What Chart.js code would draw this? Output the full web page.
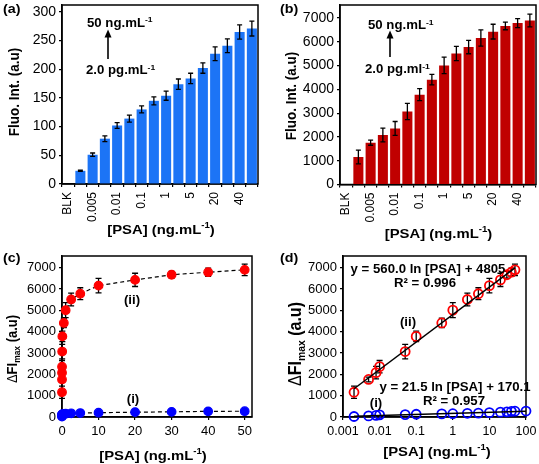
<!DOCTYPE html>
<html>
<head>
<meta charset="utf-8">
<script src="https://cdn.jsdelivr.net/npm/chart.js@4.4.0/dist/chart.umd.min.js"></script>
<style>
  html, body { margin: 0; padding: 0; background: #fff; }
  body { width: 539px; height: 464px; position: relative; overflow: hidden; }
  canvas { position: absolute; }
</style>
</head>
<body>
<canvas id="chartA" width="268" height="246" style="left:0;top:0"></canvas>
<canvas id="chartB" width="271" height="246" style="left:268px;top:0"></canvas>
<canvas id="chartC" width="268" height="224" style="left:0;top:240px"></canvas>
<canvas id="chartD" width="271" height="224" style="left:268px;top:240px"></canvas>
<script>
// data
const concLabels = ['BLK', '0.002', '0.005', '0.008', '0.01', '0.05', '0.1', '0.5', '1', '2.5', '5', '10', '20', '30', '40', '50'];
const conc = [0.002, 0.005, 0.008, 0.01, 0.05, 0.1, 0.5, 1, 2.5, 5, 10, 20, 30, 40, 50];
const blueVals = [23, 51, 79, 102, 114, 130, 145, 154, 174, 184, 202, 227, 241, 265, 271];
const blueErr = [1, 3, 5, 5, 6, 6, 7, 8, 9, 9, 9, 12, 12, 12.5, 13];
const redVals = [1160, 1760, 2080, 2360, 3070, 3780, 4410, 5010, 5510, 5780, 6160, 6430, 6670, 6790, 6900];
const redErr = [290, 110, 290, 290, 340, 250, 220, 350, 300, 280, 340, 310, 160, 190, 270];
const blueExtraConc = 100;   // extra point only in panel (d)
const blueExtraVal = 280;
const fitRed = { a: 560.0, b: 4805 };
const fitBlue = { a: 21.5, b: 170.1 };

const yTicksA = [0, 50, 100, 150, 200, 250, 300];
const yTicksB = [0, 1000, 2000, 3000, 4000, 5000, 6000, 7000];
const xTicksC = [0, 10, 20, 30, 40, 50];
const xTicksD = [0.001, 0.01, 0.1, 1, 10, 100];

const FONT = "'Liberation Sans', Arial, sans-serif";
const STRETCH = 1.1;
Chart.defaults.font.family = FONT;
Chart.defaults.color = '#000';

// rich text: parts = [[text, mode]], mode '' | 'sup' | 'sub' | 'reg'
function drawRich(ctx, n) {
    const size = n.size || 12;
    const fontOf = p => {
        const small = p[1] === 'sup' || p[1] === 'sub';
        const weight = (p[1] === 'reg' || n.bold === false) ? 'normal' : 'bold';
        return weight + ' ' + (small ? size * 0.65 : size) + 'px ' + FONT;
    };
    ctx.save();
    ctx.translate(n.x, n.y);
    if (n.rot) { ctx.rotate(n.rot); ctx.scale(1, STRETCH); } else { ctx.scale(STRETCH, 1); }
    let total = 0;
    n.parts.forEach(p => { ctx.font = fontOf(p); total += ctx.measureText(p[0]).width; });
    let x = n.align === 'left' ? 0 : -total / 2;
    ctx.fillStyle = '#000';
    ctx.textAlign = 'left';
    ctx.textBaseline = 'alphabetic';
    n.parts.forEach(p => {
        ctx.font = fontOf(p);
        let dy = size * 0.36;
        if (p[1] === 'sup') dy -= size * 0.4;
        if (p[1] === 'sub') dy += size * 0.22;
        ctx.fillText(p[0], x, dy);
        x += ctx.measureText(p[0]).width;
    });
    ctx.restore();
}

function drawArrow(ctx, x, yTail, yTip) {
    ctx.save();
    ctx.strokeStyle = '#000';
    ctx.fillStyle = '#000';
    ctx.lineWidth = 1.6;
    ctx.beginPath();
    ctx.moveTo(x, yTail);
    ctx.lineTo(x, yTip + 6);
    ctx.stroke();
    ctx.beginPath();
    ctx.moveTo(x, yTip);
    ctx.lineTo(x - 3.5, yTip + 8);
    ctx.lineTo(x + 3.5, yTip + 8);
    ctx.closePath();
    ctx.fill();
    ctx.restore();
}

// box around the plot area
const frame = {
    id: 'frame',
    beforeDatasetsDraw(chart) {
        const a = chart.chartArea, ctx = chart.ctx;
        ctx.save();
        ctx.strokeStyle = '#000';
        ctx.lineWidth = 1.5;
        ctx.strokeRect(a.left, a.top, a.right - a.left, a.bottom - a.top);
        ctx.restore();
    }
};
Chart.register(frame);

function notes(list, arrows) {
    return {
        id: 'notes',
        afterDraw(chart) {
            list.forEach(n => drawRich(chart.ctx, n));
            (arrows || []).forEach(a => drawArrow(chart.ctx, a[0], a[1], a[2]));
        }
    };
}

function errorBars(sets, under, cap) {
    const draw = chart => {
        const ctx = chart.ctx;
        sets.forEach(s => {
            const meta = chart.getDatasetMeta(s.ds);
            const ds = chart.data.datasets[s.ds];
            const yScale = chart.scales[meta.yAxisID];
            ctx.save();
            ctx.strokeStyle = '#000';
            ctx.lineWidth = 1.3;
            meta.data.forEach((el, i) => {
                const e = s.err[i];
                const d = ds.data[i];
                if (e == null || d == null) return;
                const v = typeof d === 'object' ? d.y : d;
                const y1 = yScale.getPixelForValue(v + e), y2 = yScale.getPixelForValue(v - e);
                ctx.beginPath();
                ctx.moveTo(el.x, y1); ctx.lineTo(el.x, y2);
                ctx.moveTo(el.x - cap, y1); ctx.lineTo(el.x + cap, y1);
                ctx.moveTo(el.x - cap, y2); ctx.lineTo(el.x + cap, y2);
                ctx.stroke();
            });
            ctx.restore();
        });
    };
    return under ? { id: 'errorBars', beforeDatasetsDraw: draw } : { id: 'errorBars', afterDatasetsDraw: draw };
}

const fixX = h => s => { s.height = h; s.paddingLeft = 0; s.paddingRight = 0; };
const fixY = w => s => { s.width = w; s.paddingTop = 0; s.paddingBottom = 0; };
const setTicks = vals => s => { s.ticks = vals.map(v => ({ value: v })); };
const plain = v => String(v);
const gridStyle = { drawOnChartArea: false, color: '#000', tickLength: 3, lineWidth: 1.2 };
const borderStyle = { color: '#000', width: 1.5 };

const psaTitle = [['[PSA] (ng.mL', ''], ['-1', 'sup'], [')', '']];
const fluoTitle = [['Fluo. Int. (a.u)', '']];
const dfiTitle = [['\u0394', 'reg'], ['FI', ''], ['max', 'sub'], [' (a.u)', '']];

function barChart(id, vals, err, color, yMax, yTicks, box, noteList, arrow) {
    return new Chart(document.getElementById(id), {
        type: 'bar',
        data: {
            labels: concLabels,
            datasets: [{
                data: [null].concat(vals),
                backgroundColor: color,
                categoryPercentage: 1,
                barPercentage: 0.82
            }]
        },
        options: {
            responsive: false,
            animation: false,
            layout: { padding: { left: 0, top: box.top, right: box.w - box.right, bottom: 0 }, autoPadding: false },
            plugins: { legend: { display: false }, tooltip: { enabled: false } },
            scales: {
                x: {
                    grid: Object.assign({ offset: true }, gridStyle),
                    border: borderStyle,
                    ticks: {
                        autoSkip: false, minRotation: 90, maxRotation: 90, padding: 5,
                        font: { size: 12 },
                        callback: (v, i) => i % 2 === 0 ? concLabels[i] : ''
                    },
                    afterFit: fixX(box.h - box.bottom)
                },
                y: {
                    min: 0, max: yMax,
                    grid: gridStyle,
                    border: borderStyle,
                    ticks: { padding: 3, font: { size: 14 }, callback: plain },
                    afterBuildTicks: setTicks(yTicks),
                    afterFit: fixY(box.left)
                }
            }
        },
        plugins: [errorBars([{ ds: 0, err: [null].concat(err) }], false, 2.5), notes(noteList, [arrow])]
    });
}

// (a)
barChart('chartA', blueVals, blueErr, 'rgb(28,116,246)', 312, yTicksA,
    { w: 268, h: 246, left: 62, right: 258, top: 5, bottom: 184 },
    [
        { parts: [['(a)', '']], x: 3, y: 8.5, size: 13, align: 'left' },
        { parts: [['50 ng.mL', ''], ['-1', 'sup']], x: 87, y: 22.5, size: 12, align: 'left' },
        { parts: [['2.0 pg.mL', ''], ['-1', 'sup']], x: 86, y: 70, size: 12, align: 'left' },
        { parts: fluoTitle, x: 14, y: 92, size: 13.5, rot: -Math.PI / 2 },
        { parts: psaTitle, x: 161, y: 229, size: 13.5 }
    ],
    [108, 59, 29.5]);

// (b)
barChart('chartB', redVals, redErr, '#C00000', 7550, yTicksB,
    { w: 271, h: 246, left: 72, right: 268, top: 5, bottom: 184.5 },
    [
        { parts: [['(b)', '']], x: 12, y: 8.5, size: 13, align: 'left' },
        { parts: [['50 ng.mL', ''], ['-1', 'sup']], x: 100, y: 25, size: 12, align: 'left' },
        { parts: [['2.0 pg.ml', ''], ['-1', 'sup']], x: 97, y: 69, size: 12, align: 'left' },
        { parts: fluoTitle, x: 23, y: 96, size: 13.5, rot: -Math.PI / 2 },
        { parts: psaTitle, x: 170.5, y: 233, size: 13.5 }
    ],
    [122, 57, 30.5]);

// (c)
const pointsC = vals => conc.map((x, i) => ({ x: x, y: vals[i] }));
new Chart(document.getElementById('chartC'), {
    type: 'scatter',
    data: {
        datasets: [{
            data: pointsC(redVals),
            showLine: true, borderColor: '#000', borderWidth: 1.2, borderDash: [4, 3],
            pointRadius: 4.3, pointBackgroundColor: '#FF0000', pointBorderColor: '#FF0000',
            clip: false
        }, {
            data: pointsC(blueVals),
            showLine: true, borderColor: '#000', borderWidth: 1.2, borderDash: [4, 3],
            pointRadius: 4.3, pointBackgroundColor: '#0000FF', pointBorderColor: '#0000FF',
            clip: false
        }]
    },
    options: {
        responsive: false,
        animation: false,
        layout: { padding: { left: 0, top: 16, right: 268 - 252, bottom: 0 }, autoPadding: false },
        plugins: { legend: { display: false }, tooltip: { enabled: false } },
        scales: {
            x: {
                type: 'linear', min: 0, max: 52,
                grid: gridStyle, border: borderStyle,
                ticks: { padding: 4, font: { size: 13 }, maxRotation: 0, autoSkip: false, callback: plain },
                afterBuildTicks: setTicks(xTicksC),
                afterFit: fixX(224 - 177)
            },
            y: {
                min: 0, max: 7550,
                grid: gridStyle, border: borderStyle,
                ticks: { padding: 3, font: { size: 13 }, callback: plain },
                afterBuildTicks: setTicks(yTicksB),
                afterFit: fixY(62)
            }
        }
    },
    plugins: [errorBars([{ ds: 0, err: redErr }], true, 3), notes([
        { parts: [['(c)', '']], x: 3, y: 17, size: 13, align: 'left' },
        { parts: [['(ii)', '']], x: 132, y: 60, size: 12 },
        { parts: [['(i)', '']], x: 133, y: 159, size: 12 },
        { parts: dfiTitle, x: 12, y: 109, size: 13, rot: -Math.PI / 2 },
        { parts: psaTitle, x: 153, y: 215, size: 13.5 }
    ])]
});

// (d)
const fitLine = (f, x0, x1) => [x0, x1].map(x => ({ x: x, y: f.a * Math.log(x) + f.b }));
const concD = conc.concat([blueExtraConc]);
const blueValsD = blueVals.concat([blueExtraVal]);
new Chart(document.getElementById('chartD'), {
    type: 'scatter',
    data: {
        datasets: [{
            data: fitLine(fitRed, conc[0], conc[conc.length - 1]),
            showLine: true, borderColor: '#000', borderWidth: 1.5, pointRadius: 0
        }, {
            data: fitLine(fitBlue, concD[0], concD[concD.length - 1]),
            showLine: true, borderColor: '#000', borderWidth: 1.5, pointRadius: 0
        }, {
            data: pointsC(redVals),
            pointRadius: 4.5, pointBorderWidth: 1.8,
            pointBackgroundColor: 'rgba(0,0,0,0)', pointBorderColor: '#FF0000',
            clip: false
        }, {
            data: concD.map((x, i) => ({ x: x, y: blueValsD[i] })),
            pointRadius: 4.5, pointBorderWidth: 1.8,
            pointBackgroundColor: 'rgba(0,0,0,0)', pointBorderColor: '#0000FF',
            clip: false
        }]
    },
    options: {
        responsive: false,
        animation: false,
        layout: { padding: { left: 0, top: 16, right: 271 - 258, bottom: 0 }, autoPadding: false },
        plugins: { legend: { display: false }, tooltip: { enabled: false } },
        scales: {
            x: {
                type: 'logarithmic', min: 0.001, max: 100,
                grid: gridStyle, border: borderStyle,
                ticks: { padding: 4, font: { size: 12.5 }, maxRotation: 0, minRotation: 0, autoSkip: false, callback: plain },
                afterBuildTicks: setTicks(xTicksD),
                afterFit: fixX(224 - 177)
            },
            y: {
                min: 0, max: 7550,
                grid: gridStyle, border: borderStyle,
                ticks: { padding: 3, font: { size: 13 }, callback: plain },
                afterBuildTicks: setTicks(yTicksB),
                afterFit: fixY(75)
            }
        }
    },
    plugins: [errorBars([{ ds: 2, err: redErr }], true, 3), notes([
        { parts: [['(d)', '']], x: 12, y: 17, size: 13, align: 'left' },
        { parts: [['y = 560.0 ln [PSA] + 4805', '']], x: 160, y: 28.5, size: 12 },
        { parts: [['R\u00b2 = 0.996', '']], x: 157, y: 42.5, size: 12 },
        { parts: [['(ii)', '']], x: 140, y: 82, size: 12 },
        { parts: [['y = 21.5 ln [PSA] + 170.1', '']], x: 187, y: 146.5, size: 12 },
        { parts: [['R\u00b2 = 0.957', '']], x: 186, y: 160.5, size: 12 },
        { parts: [['(i)', '']], x: 108, y: 163, size: 12 },
        { parts: dfiTitle, x: 27, y: 104, size: 16, rot: -Math.PI / 2 },
        { parts: psaTitle, x: 169, y: 211, size: 13.5 }
    ])]
});
</script>
</body>
</html>
